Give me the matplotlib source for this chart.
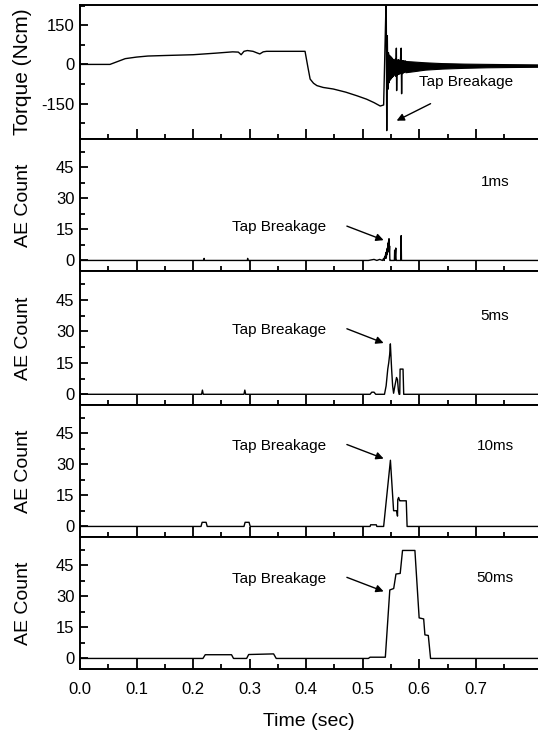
import numpy as np
import matplotlib.pyplot as plt
from matplotlib.ticker import MultipleLocator, FixedLocator

plt.rcParams['font.family'] = ['Liberation Sans', 'DejaVu Sans']

# torque signal (Ncm) before and around the breakage
t_torque = [0.0, 0.053, 0.08, 0.1, 0.12, 0.15, 0.2, 0.24, 0.27, 0.28, 0.285, 0.29,
            0.296, 0.306, 0.313, 0.318, 0.324, 0.33, 0.398, 0.403, 0.407, 0.413,
            0.419, 0.43, 0.448, 0.47, 0.49, 0.507, 0.52, 0.531, 0.537, 0.5412,
            0.5416, 0.5425, 0.5435, 0.5445, 0.5455, 0.5465, 0.5475, 0.5485, 0.5495,
            0.5505, 0.5515, 0.5525, 0.5535, 0.5545, 0.5555, 0.5565, 0.5575, 0.5585,
            0.5595, 0.5600, 0.5607, 0.5617, 0.5627, 0.5637, 0.5647, 0.5657, 0.5667,
            0.5680, 0.5688, 0.5695, 0.5705, 0.5715, 0.5725, 0.5735, 0.5745, 0.5755]
torque = [0, 0, 22, 28, 32, 34, 37, 43, 48, 47, 37, 50,
          53, 50, 44, 40, 48, 50, 50, -10, -56, -72,
          -81, -88, -94, -106, -120, -133, -146, -159, -155, 235,
          235, -253, 110, -95, 45, -70, 35, -60, 30,
          -55, 25, -50, 20, -45, 15, -40, 20, -45,
          62, -100, 15, -40, 18, -38, 16, -36, 15,
          62, -112, 14, -35, 14, -32, 13, -30, 13]

# decaying oscillation band after breakage
t_band = [0.5755, 0.59, 0.61, 0.64, 0.68, 0.72, 0.76, 0.81]
band_hi = [13, 11, 8, 5, 3, 2, 1, 0]
band_lo = [-30, -26, -20, -16, -13, -11, -10, -9]

# AE counts for the four counting windows
t_1ms = [0.0, 0.219, 0.2195, 0.22, 0.296, 0.2965, 0.297, 0.51, 0.52, 0.525, 0.53,
         0.535, 0.537, 0.538, 0.539, 0.540, 0.5405, 0.541, 0.5415, 0.542, 0.5425,
         0.543, 0.5435, 0.544, 0.5445, 0.545, 0.5455, 0.546, 0.5465, 0.547, 0.5475,
         0.548, 0.549, 0.556, 0.5565, 0.557, 0.5585, 0.559, 0.5595, 0.5675, 0.568,
         0.5685, 0.81]
ae_1ms = [0, 0, 1, 0, 0, 1, 0, 0, 0.5, 0, 0.5,
          0, 1, 0, 2, 1, 3, 1, 4, 2, 5,
          3, 6, 4, 8, 5, 9, 6, 10.5, 4, 7,
          0, 0, 0, 5, 0, 6, 0, 0, 0, 12,
          0, 0]

t_5ms = [0.0, 0.215, 0.2165, 0.218, 0.29, 0.2915, 0.293, 0.513, 0.516, 0.52, 0.523,
         0.5385, 0.5414, 0.5443, 0.546, 0.5477, 0.5489, 0.55, 0.5511, 0.5529, 0.5546,
         0.5569, 0.5598, 0.5615, 0.5632, 0.5644, 0.5655, 0.5661, 0.5713, 0.5725, 0.81]
ae_5ms = [0, 0, 2, 0, 0, 2, 0, 0, 1, 1, 0,
          0, 4, 12, 15, 19, 24, 18, 12, 4, 0.5,
          4, 8, 7, 1.5, 0, 0, 12, 12, 0, 0]

t_10ms = [0.0, 0.214, 0.216, 0.223, 0.225, 0.29, 0.292, 0.299, 0.301, 0.513, 0.514,
          0.524, 0.525, 0.537, 0.549, 0.5546, 0.560, 0.5615, 0.562, 0.5635, 0.5655,
          0.5665, 0.577, 0.5785, 0.81]
ae_10ms = [0, 0, 2, 2, 0, 0, 2, 2, 0, 0, 0.8,
           0.8, 0, 0, 32, 7.6, 7.6, 5, 13, 14, 12.4,
           12.4, 12.4, 0, 0]

t_50ms = [0.0, 0.2174, 0.2215, 0.268, 0.2715, 0.2947, 0.2983, 0.3424, 0.347, 0.51,
          0.513, 0.540, 0.5479, 0.5548, 0.5588, 0.5663, 0.5704, 0.5923, 0.5998,
          0.6078, 0.610, 0.616, 0.620, 0.81]
ae_50ms = [0, 0, 1.8, 1.8, 0, 0, 1.9, 2.2, 0, 0,
           0.6, 0.6, 33.1, 33.8, 40.8, 41.1, 52.2, 52.2, 19.6,
           19.1, 11.4, 11.1, 0, 0]

x_major = [0.0, 0.1, 0.2, 0.3, 0.4, 0.5, 0.6, 0.7]
x_minor = [0.05, 0.15, 0.25, 0.35, 0.45, 0.55, 0.65, 0.75]
x_labels = ['0.0', '0.1', '0.2', '0.3', '0.4', '0.5', '0.6', '0.7']

ae_series = [(t_1ms, ae_1ms, '1ms', 16, 38), (t_5ms, ae_5ms, '5ms', 30.6, 37.5),
             (t_10ms, ae_10ms, '10ms', 39, 39), (t_50ms, ae_50ms, '50ms', 38.6, 39)]

W, H = 538, 733
edges = [5, 139, 271, 405, 537, 669]
fig = plt.figure(figsize=(W / 100, H / 100), dpi=100)
axes = []
for i in range(5):
    top, bot = edges[i], edges[i + 1]
    ax = fig.add_axes([80 / W, (H - bot) / H, 458 / W, (bot - top) / H])
    axes.append(ax)


def style_axis(ax, show_x):
    ax.set_xlim(0, 0.81)
    ax.xaxis.set_major_locator(FixedLocator(x_major))
    ax.xaxis.set_minor_locator(FixedLocator(x_minor))
    ax.spines['right'].set_visible(False)
    for s in ['top', 'bottom', 'left']:
        ax.spines[s].set_linewidth(1.4)
    ax.tick_params(which='both', direction='in', top=False, right=False, width=1.3,
                   labelsize=12, colors='black')
    ax.tick_params(axis='x', which='major', length=7, pad=9)
    ax.tick_params(axis='x', which='minor', length=3.5)
    ax.tick_params(axis='y', which='major', length=5.5, pad=4)
    ax.tick_params(axis='y', which='minor', length=3.5)
    if not show_x:
        ax.tick_params(axis='x', labelbottom=False)
    else:
        ax.set_xticklabels(x_labels)


arrow = dict(arrowstyle='-|>', color='black', lw=1.0, mutation_scale=11,
             shrinkA=0, shrinkB=0)

# torque panel
ax = axes[0]
ax.plot(t_torque, torque, color='black', lw=1.0)
ax.fill_between(t_band, band_lo, band_hi, color='black', lw=0.8)
ax.set_ylim(-285, 227)
ax.set_yticks([-150, 0, 150])
ax.set_yticklabels(['-150', '0', '150'])
ax.yaxis.set_minor_locator(MultipleLocator(75))
style_axis(ax, False)
ax.set_ylabel('Torque (Ncm)', fontsize=15)
ax.yaxis.set_label_coords(-0.105, 0.5)
ax.text(0.599, -69, 'Tap Breakage', fontsize=11, va='center', ha='left')
ax.annotate('', xy=(0.560, -215), xytext=(0.62, -150), arrowprops=arrow)

for k, (tt, vals, tag, ty, ly) in enumerate(ae_series):
    ax = axes[k + 1]
    ax.plot(tt, vals, color='black', lw=1.0)
    ax.set_ylim(-5.1, 58.7)
    ax.set_yticks([0, 15, 30, 45])
    ax.yaxis.set_minor_locator(MultipleLocator(7.5))
    style_axis(ax, k == 3)
    ax.set_ylabel('AE Count', fontsize=14)
    ax.yaxis.set_label_coords(-0.105, 0.5)
    ax.text(0.268, ty, 'Tap Breakage', fontsize=11, va='center', ha='left')
    ax.annotate('', xy=(0.537, ty - 6.2), xytext=(0.472, ty + 0.6), arrowprops=arrow)
    ax.text(0.734, ly, tag, fontsize=11, va='center', ha='center')

axes[-1].set_xlabel('Time (sec)', fontsize=14, labelpad=12)

fig.savefig('out.png', dpi=100)
